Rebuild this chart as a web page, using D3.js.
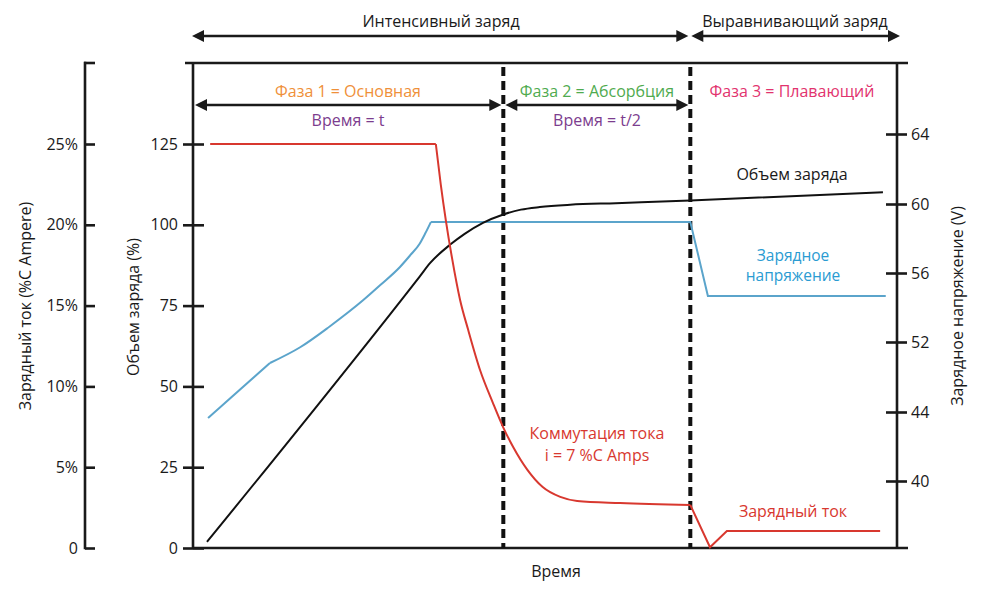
<!DOCTYPE html>
<html>
<head>
<meta charset="utf-8">
<script src="https://cdn.jsdelivr.net/npm/d3@7"></script>
<style>
  body { margin: 0; background: #fff; }
  svg { display: block; }
  text { font-family: "Open Sans", sans-serif; }
</style>
</head>
<body>
<svg id="chart" width="987" height="592"></svg>
<script>
// время в условных единицах 0..100, границы фаз
const phaseEnds = [44.0, 70.6];

// подписи делений
const chargeTicks = [0, 25, 50, 75, 100, 125];
const currentTicks = [0, 5, 10, 15, 20, 25];
const voltTicks = [40, 44, 52, 56, 60, 64];

// зарядный ток, % C  [время, значение]; три участка
const currentBulk = [[2.3, 25], [34.4, 25]];
const currentDecay = [
  [34.4, 25], [35.1, 22.5], [35.85, 20.2], [36.7, 17.95], [37.85, 15.35],
  [39.0, 13.5], [40.7, 11.0], [42.5, 9.0], [43.95, 7.5], [45.4, 6.25],
  [47.4, 4.85], [49.6, 3.77], [52.1, 3.16], [54.5, 2.91], [60.6, 2.78],
  [70.6, 2.66]
];
const currentFloat = [[70.6, 2.66], [73.4, 0.05], [75.8, 1.05], [97.6, 1.05]];

// объем заряда, %
const chargeData = [
  [1.85, 1.9], [32.1, 84.0], [33.6, 88.2], [36.4, 93.8], [38.5, 97.2],
  [41.1, 100.6], [44.0, 103.2], [46.5, 104.7], [49.2, 105.5], [53.5, 106.2],
  [60.0, 106.7], [70.6, 107.5], [98.0, 110.1]
];

// зарядное напряжение, V; три участка
const voltStart = [[2.0, 43.65], [10.8, 49.6]];
const voltRise = [
  [10.8, 49.6], [15.1, 51.4], [19.3, 52.9], [24.0, 54.4], [26.5, 55.3],
  [29.3, 56.35], [30.7, 57.0], [32.1, 57.7], [32.9, 58.3], [33.7, 58.96]
];
const voltFloat = [[33.7, 58.96], [70.6, 58.96], [73.1, 54.67], [98.4, 54.67]];

const svg = d3.select("#chart");
const ink = "#1a1a1a";

const x = d3.scaleLinear().domain([0, 100]).range([194, 897]);
const yCharge = d3.scaleLinear().domain([0, 125]).range([548, 144]);
const yCurrent = d3.scaleLinear().domain([0, 25]).range([548, 144]);
// шкала напряжения неравномерная: деления на равном расстоянии
const yVolt = d3.scaleLinear().domain(voltTicks).range([481, 412, 342, 273, 204, 134]);

const frameTop = 63, frameBottom = 548;

function styleAxis(g) {
  g.attr("font-family", "\"Open Sans\", sans-serif").attr("font-size", 16);
  g.select(".domain").remove();
  g.selectAll(".tick line").attr("stroke", ink).attr("stroke-width", 2.6);
  g.selectAll(".tick text").attr("fill", ink);
}

// рамка: верхняя и нижняя линии, вертикальные оси
svg.append("line").attr("x1", 185).attr("x2", 908).attr("y1", frameTop).attr("y2", frameTop)
  .attr("stroke", ink).attr("stroke-width", 2.6);
svg.append("line").attr("x1", 193).attr("x2", 908).attr("y1", frameBottom).attr("y2", frameBottom)
  .attr("stroke", ink).attr("stroke-width", 2.6);
svg.append("line").attr("x1", 193).attr("x2", 193).attr("y1", frameTop).attr("y2", frameBottom + 1)
  .attr("stroke", ink).attr("stroke-width", 2.6);
svg.append("line").attr("x1", 897).attr("x2", 897).attr("y1", frameTop).attr("y2", frameBottom + 1)
  .attr("stroke", ink).attr("stroke-width", 2.6);

// крайняя левая ось тока
svg.append("line").attr("x1", 85).attr("x2", 85).attr("y1", frameTop - 1.3).attr("y2", frameBottom + 1.3)
  .attr("stroke", ink).attr("stroke-width", 2.6);
svg.append("line").attr("x1", 84).attr("x2", 95).attr("y1", frameTop).attr("y2", frameTop)
  .attr("stroke", ink).attr("stroke-width", 2.6);

svg.append("g")
  .attr("transform", "translate(85,0)")
  .call(d3.axisLeft(yCurrent).tickValues(currentTicks).tickSize(-10).tickPadding(7)
    .tickFormat(d => d === 0 ? "0" : d + "%"))
  .call(styleAxis);

svg.append("g")
  .attr("transform", "translate(193,0)")
  .call(d3.axisLeft(yCharge).tickValues(chargeTicks).tickSize(10).tickPadding(5))
  .call(styleAxis)
  .call(g => g.selectAll(".tick line").attr("x1", 11));

svg.append("g")
  .attr("transform", "translate(897,0)")
  .call(d3.axisRight(yVolt).tickValues(voltTicks).tickSize(10).tickPadding(4))
  .call(styleAxis)
  .call(g => g.selectAll(".tick line").attr("x1", -11));

// пунктирные границы фаз
svg.selectAll(".phase-line")
  .data(phaseEnds)
  .enter()
  .append("line")
  .attr("class", "phase-line")
  .attr("x1", d => x(d)).attr("x2", d => x(d))
  .attr("y1", frameTop + 4).attr("y2", frameBottom)
  .attr("stroke", "#111").attr("stroke-width", 4)
  .attr("stroke-dasharray", "9,5");

// стрелки
function arrow(x1, x2, y) {
  const hl = 12, hw = 6;
  svg.append("line").attr("x1", x1 + hl - 2).attr("x2", x2 - hl + 2).attr("y1", y).attr("y2", y)
    .attr("stroke", ink).attr("stroke-width", 2.6);
  svg.append("path")
    .attr("d", `M${x1},${y} L${x1 + hl},${y - hw} L${x1 + hl},${y + hw} Z`)
    .attr("fill", ink);
  svg.append("path")
    .attr("d", `M${x2},${y} L${x2 - hl},${y - hw} L${x2 - hl},${y + hw} Z`)
    .attr("fill", ink);
}
arrow(x(0) - 2, x(phaseEnds[1]) - 2, 36);
arrow(x(phaseEnds[1]) + 1, x(100) + 3, 36);
arrow(x(0) + 1, x(phaseEnds[0]) - 2, 105);
arrow(x(phaseEnds[0]) + 2, x(phaseEnds[1]) - 2, 105);

// линии графиков
const lineCurrent = d3.line().x(d => x(d[0])).y(d => yCurrent(d[1]));
const lineCurrentSmooth = d3.line().x(d => x(d[0])).y(d => yCurrent(d[1])).curve(d3.curveMonotoneX);
const lineCharge = d3.line().x(d => x(d[0])).y(d => yCharge(d[1])).curve(d3.curveMonotoneX);
const lineVolt = d3.line().x(d => x(d[0])).y(d => yVolt(d[1]));
const lineVoltSmooth = d3.line().x(d => x(d[0])).y(d => yVolt(d[1])).curve(d3.curveMonotoneX);

const blue = "#5ba4cb";
[[voltStart, lineVolt], [voltRise, lineVoltSmooth], [voltFloat, lineVolt]]
  .forEach(([data, gen]) => {
    svg.append("path").datum(data)
      .attr("fill", "none").attr("stroke", blue).attr("stroke-width", 2)
      .attr("d", gen);
  });

svg.append("path").datum(chargeData)
  .attr("fill", "none").attr("stroke", "#111").attr("stroke-width", 2)
  .attr("d", lineCharge);

const red = "#d8382f";
[[currentBulk, lineCurrent], [currentDecay, lineCurrentSmooth], [currentFloat, lineCurrent]]
  .forEach(([data, gen]) => {
    svg.append("path").datum(data)
      .attr("fill", "none").attr("stroke", red).attr("stroke-width", 2)
      .attr("d", gen);
  });

// подписи
function label(txt, cx, y, color, size) {
  svg.append("text")
    .attr("x", cx).attr("y", y)
    .attr("text-anchor", "middle")
    .style("font-size", (size || 16) + "px")
    .style("fill", color)
    .text(txt);
}
label("Интенсивный заряд", 441, 27, ink);
label("Выравнивающий заряд", 795, 27, ink);
label("Фаза 1 = Основная", 348, 97, "#ef9039");
label("Время = t", 348, 126, "#7c3d8e");
label("Фаза 2 = Абсорбция", 597, 97, "#4fab4f");
label("Время = t/2", 597, 126, "#7c3d8e");
label("Фаза 3 = Плавающий", 792, 97, "#e2336e");
label("Объем заряда", 792, 180, ink);
label("Зарядное", 793, 261, "#2a9bd2", 15.5);
label("напряжение", 793, 281, "#2a9bd2", 15.5);
label("Коммутация тока", 597, 439, red);
label("i = 7 %C Amps", 597, 461, red);
label("Зарядный ток", 793, 517, red);
label("Время", 556, 577, ink);

// повернутые заголовки осей
function vlabel(txt, cx, cy) {
  svg.append("text")
    .attr("transform", `translate(${cx},${cy}) rotate(-90)`)
    .attr("text-anchor", "middle")
    .attr("dy", "0.35em")
    .style("font-size", "16px")
    .style("fill", ink)
    .text(txt);
}
vlabel("Зарядный ток (%C Ampere)", 25, 306);
vlabel("Объем заряда (%)", 133, 307);
vlabel("Зарядное напряжение (V)", 957, 306);
</script>
</body>
</html>
